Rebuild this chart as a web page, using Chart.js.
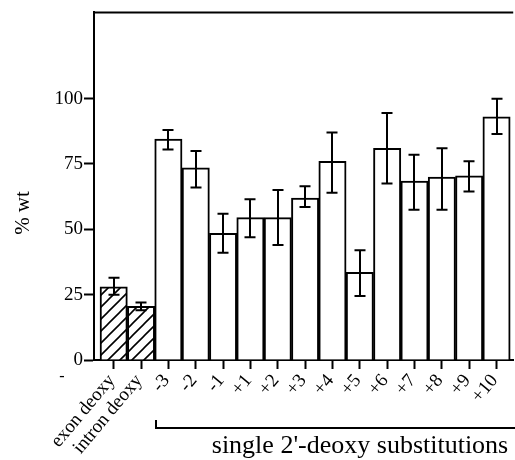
<!DOCTYPE html>
<html>
<head>
<meta charset="utf-8">
<script src="https://cdn.jsdelivr.net/npm/chart.js@4"></script>
<style>
  html, body { margin: 0; padding: 0; background: #fff; }
</style>
</head>
<body>
<canvas id="chart" width="515" height="460"></canvas>
<script>
const labels = ['exon deoxy', 'intron deoxy', '-3', '-2', '-1', '+1', '+2', '+3', '+4', '+5', '+6', '+7', '+8', '+9', '+10'];
const means = [28, 20.5, 84.5, 73.5, 48.5, 54.5, 54.5, 62, 76, 33.5, 81, 68.5, 70, 70.5, 93];
const upper = [31.5, 22, 88, 80, 56, 61.5, 65, 66.5, 87, 42, 94.5, 78.5, 81, 76, 100];
const lower = [25, 19, 80.5, 66, 41, 47, 44, 58.5, 64, 24.5, 67.5, 57.5, 57.5, 64.5, 86.5];
const hatched = ['exon deoxy', 'intron deoxy'];
const yTicks = [0, 25, 50, 75, 100];
const yTitle = '% wt';
const groupLabel = "single 2'-deoxy substitutions";

const serif = 'Liberation Serif';

function hatchPattern(ctx) {
  const s = 12;
  const p = document.createElement('canvas');
  p.width = s;
  p.height = s;
  const g = p.getContext('2d');
  g.fillStyle = '#fff';
  g.fillRect(0, 0, s, s);
  g.strokeStyle = '#000';
  g.lineWidth = 1.6;
  g.beginPath();
  g.moveTo(0, s); g.lineTo(s, 0);
  g.moveTo(-s / 2, s / 2); g.lineTo(s / 2, -s / 2);
  g.moveTo(s / 2, s * 1.5); g.lineTo(s * 1.5, s / 2);
  g.stroke();
  return ctx.createPattern(p, 'repeat');
}

// error bars, frame line, bracket and extra texts
const decor = {
  id: 'decor',
  afterDatasetsDraw(chart) {
    const g = chart.ctx;
    const y = chart.scales.y;
    const x = chart.scales.x;
    const area = chart.chartArea;
    g.save();
    g.strokeStyle = '#000';
    g.lineWidth = 2;

    chart.getDatasetMeta(0).data.forEach((bar, i) => {
      const bx = Math.round(bar.x);
      const yh = y.getPixelForValue(upper[i]);
      const yl = y.getPixelForValue(lower[i]);
      g.beginPath();
      g.moveTo(bx, yh); g.lineTo(bx, yl);
      g.moveTo(bx - 5.5, yh); g.lineTo(bx + 5.5, yh);
      g.moveTo(bx - 5.5, yl); g.lineTo(bx + 5.5, yl);
      g.stroke();
    });

    // top frame
    g.beginPath();
    g.moveTo(area.left - 1, area.top);
    g.lineTo(area.right, area.top);
    g.stroke();

    // bracket under the single substitutions
    const bl = Math.round(x.getPixelForValue(1.5)) + 1;
    g.beginPath();
    g.moveTo(bl, 420);
    g.lineTo(bl, 428);
    g.lineTo(chart.width, 428);
    g.stroke();

    g.fillStyle = '#000';
    g.font = '26px "' + serif + '"';
    g.textAlign = 'center';
    g.textBaseline = 'alphabetic';
    g.fillText(groupLabel, 360, 453);

    g.save();
    g.translate(29, 213);
    g.rotate(-Math.PI / 2);
    g.font = '21px "' + serif + '"';
    g.fillText(yTitle, 0, 0);
    g.restore();

    g.font = '16px "' + serif + '"';
    g.fillText('-', 62, 381);
    g.restore();
  }
};

const ctx = document.getElementById('chart').getContext('2d');
const pattern = hatchPattern(ctx);

new Chart(ctx, {
  type: 'bar',
  data: {
    datasets: [{
      data: means.map((v, i) => ({x: i, y: v})),
      backgroundColor: labels.map(l => hatched.includes(l) ? pattern : '#fff'),
      borderColor: '#000',
      borderWidth: 2,
      barPercentage: 1,
      categoryPercentage: 1
    }]
  },
  options: {
    responsive: false,
    animation: false,
    layout: {padding: {top: 12, right: 0, bottom: 0, left: 0}},
    plugins: {
      legend: {display: false},
      tooltip: {enabled: false}
    },
    scales: {
      x: {
        type: 'linear',
        offset: false,
        min: -0.72,
        max: 14.61,
        afterBuildTicks: s => { s.ticks = labels.map((l, i) => ({value: i})); },
        afterFit: s => { s.height = 100; },
        grid: {offset: false, drawOnChartArea: false, tickLength: 9, tickWidth: 2, tickColor: '#000'},
        border: {color: '#000', width: 2},
        ticks: {
          callback: v => labels[v],
          autoSkip: false,
          minRotation: 50,
          maxRotation: 50,
          padding: 1,
          labelOffset: -2,
          color: '#000',
          font: {family: serif, size: 19}
        }
      },
      y: {
        min: 0,
        max: 133,
        afterBuildTicks: s => { s.ticks = yTicks.map(v => ({value: v})); },
        afterFit: s => { s.width = 94; },
        grid: {drawOnChartArea: false, tickLength: 10, tickWidth: 2, tickColor: '#000'},
        border: {color: '#000', width: 2},
        ticks: {
          padding: 1,
          color: '#000',
          font: {family: serif, size: 19}
        }
      }
    }
  },
  plugins: [decor]
});
</script>
</body>
</html>
